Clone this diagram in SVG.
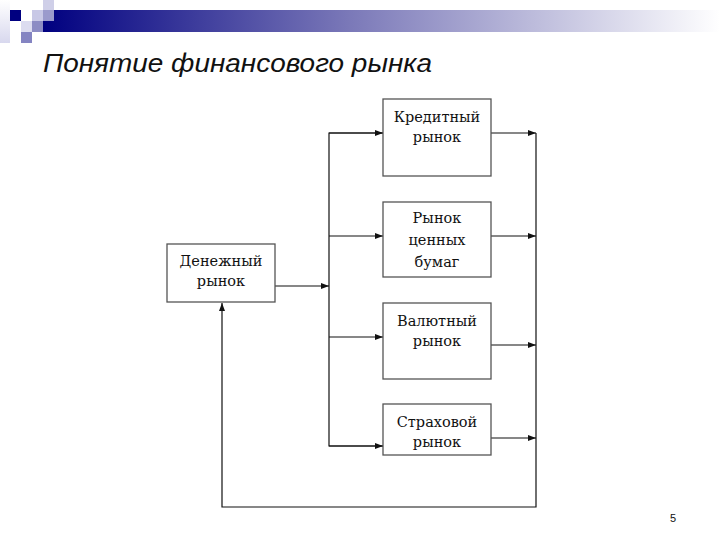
<svg xmlns="http://www.w3.org/2000/svg" width="720" height="540" viewBox="0 0 720 540">
<style>
.box{fill:#fff;stroke:#555;stroke-width:1.3}
.lbl{font-family:"DejaVu Serif","Liberation Serif",serif;font-size:14.5px;fill:#111;text-anchor:middle}
.ln{fill:none;stroke:#111;stroke-width:1.2}
.arr{fill:none;stroke:#111;stroke-width:1.2;marker-end:url(#ah)}
</style>
<defs>
<linearGradient id="bar" x1="0" y1="0" x2="1" y2="0">
<stop offset="0" stop-color="#000080"/>
<stop offset="0.45" stop-color="#7a78b8"/>
<stop offset="1" stop-color="#ffffff"/>
</linearGradient>
<linearGradient id="lcol" x1="0" y1="0" x2="0" y2="1">
<stop offset="0" stop-color="#ffffff"/>
<stop offset="1" stop-color="#d8d8ee"/>
</linearGradient>
<marker id="ah" viewBox="0 0 8 6" refX="8" refY="3" markerWidth="8" markerHeight="6" markerUnits="userSpaceOnUse" orient="auto">
<path d="M0,0 L8,3 L0,6 Z" fill="#111"/>
</marker>
</defs>
<rect width="720" height="540" fill="#fff"/>
<g id="header">
<rect x="43" y="10" width="677" height="22" fill="url(#bar)"/>
<rect x="0" y="0" width="10" height="43" fill="url(#lcol)"/>
<rect x="10" y="10" width="11" height="11" fill="#000080"/>
<rect x="43" y="0" width="11" height="10" fill="#cfcfe8"/>
<rect x="32" y="10" width="11" height="11" fill="#c8c8e6"/>
<rect x="43" y="10" width="11" height="11" fill="#9a9acc"/>
<rect x="21" y="21" width="11" height="11" fill="#dcdcf0"/>
<rect x="32" y="21" width="11" height="11" fill="#8c8cc4"/>
<rect x="21" y="32" width="11" height="11" fill="#8484c2"/>
<text x="43" y="72" font-family="'Liberation Sans',Arial,sans-serif" font-style="italic" font-size="26" fill="#111" textLength="389" lengthAdjust="spacingAndGlyphs">Понятие финансового рынка</text>
<text x="673" y="522" font-family="'Liberation Sans',Arial,sans-serif" font-size="11" fill="#111" text-anchor="middle">5</text>
</g>
<g id="connectors">
<line class="arr" x1="275" y1="286" x2="329" y2="286"/>
<polyline class="ln" points="383,133 329,133 329,446 383,446"/>
<line class="arr" x1="329" y1="133" x2="383" y2="133"/>
<line class="arr" x1="329" y1="236" x2="383" y2="236"/>
<line class="arr" x1="329" y1="337" x2="383" y2="337"/>
<line class="arr" x1="329" y1="446" x2="383" y2="446"/>
<line class="arr" x1="491" y1="133" x2="536" y2="133"/>
<line class="arr" x1="491" y1="236" x2="536" y2="236"/>
<line class="arr" x1="491" y1="345" x2="536" y2="345"/>
<line class="arr" x1="491" y1="438" x2="536" y2="438"/>
<polyline class="arr" points="536,133 536,507 222,507 222,303"/>
</g>
<g id="n-money">
<rect class="box" x="167" y="244" width="108" height="58"/>
<text class="lbl" x="221" y="266">Денежный</text>
<text class="lbl" x="221" y="286">рынок</text>
</g>
<g id="n-credit">
<rect class="box" x="383" y="99" width="108" height="77"/>
<text class="lbl" x="437" y="122">Кредитный</text>
<text class="lbl" x="437" y="142">рынок</text>
</g>
<g id="n-securities">
<rect class="box" x="383" y="202" width="108" height="75"/>
<text class="lbl" x="437" y="223">Рынок</text>
<text class="lbl" x="437" y="245">ценных</text>
<text class="lbl" x="437" y="267">бумаг</text>
</g>
<g id="n-currency">
<rect class="box" x="383" y="303" width="108" height="76"/>
<text class="lbl" x="437" y="326">Валютный</text>
<text class="lbl" x="437" y="346">рынок</text>
</g>
<g id="n-insurance">
<rect class="box" x="383" y="404" width="108" height="51"/>
<text class="lbl" x="437" y="427">Страховой</text>
<text class="lbl" x="437" y="447">рынок</text>
</g>
</svg>
